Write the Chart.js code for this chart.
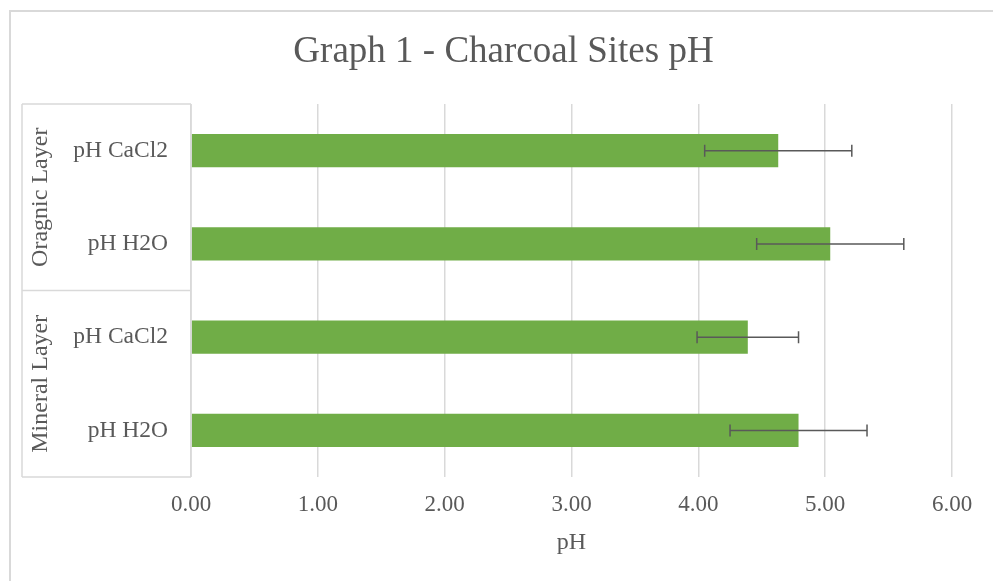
<!DOCTYPE html>
<html>
<head>
<meta charset="utf-8">
<script src="https://cdn.jsdelivr.net/npm/chart.js@4"></script>
<style>
  body { margin: 0; background: #fff; }
  #wrap { width: 993px; height: 581px; }
</style>
</head>
<body>
<div id="wrap"><canvas id="ph-chart"></canvas></div>
<script>
// data, top to bottom
var labels = ['pH CaCl2', 'pH H2O', 'pH CaCl2', 'pH H2O']
var groups = ['Oragnic Layer', 'Mineral Layer']
var groupSize = [2, 2]
var values = [4.63, 5.04, 4.39, 4.79]
var errors = [0.58, 0.58, 0.40, 0.54]
var xTicks = [0, 1, 2, 3, 4, 5, 6]

var grey = '#595959'
var serif = "'Liberation Serif', 'Times New Roman', serif"

// outer frame, chart title, grouped category boxes, axis title
var framePlugin = {
    id: 'frame',
    beforeDraw: function(chart) {
        var c = chart.ctx
        c.save()
        c.strokeStyle = '#d9d9d9'
        c.lineWidth = 2
        c.strokeRect(10, 11, chart.width + 20, chart.height + 20)
        c.fillStyle = grey
        c.font = '37px ' + serif
        c.textAlign = 'center'
        c.textBaseline = 'middle'
        c.fillText('Graph 1 - Charcoal Sites pH', 503.5, 52)
        c.restore()
    },
    afterDraw: function(chart) {
        var c = chart.ctx
        var area = chart.chartArea
        var y = chart.scales.y
        var left = 22
        c.save()
        c.strokeStyle = '#d9d9d9'
        c.lineWidth = 1.5
        var idx = 0
        var edges = [area.top]
        groupSize.forEach(function(n) {
            idx += n
            var bottom = idx < labels.length
                ? (y.getPixelForValue(idx - 1) + y.getPixelForValue(idx)) / 2
                : area.bottom
            edges.push(bottom)
        })
        c.beginPath()
        edges.forEach(function(e) {
            c.moveTo(left, e); c.lineTo(area.left, e)
        })
        c.moveTo(left, area.top); c.lineTo(left, area.bottom)
        c.moveTo(area.left, area.top); c.lineTo(area.left, area.bottom)
        c.stroke()

        c.fillStyle = grey
        c.font = '24px ' + serif
        c.textAlign = 'center'
        c.textBaseline = 'middle'
        groups.forEach(function(g, i) {
            var mid = (edges[i] + edges[i + 1]) / 2
            c.save()
            c.translate(41, mid)
            c.rotate(-Math.PI / 2)
            c.fillText(g, 0, 0)
            c.restore()
        })

        // x axis title
        c.fillText('pH', (area.left + area.right) / 2, 543)
        c.restore()
    }
}

var errorBarPlugin = {
    id: 'errorBars',
    afterDatasetsDraw: function(chart) {
        var c = chart.ctx
        var x = chart.scales.x
        var meta = chart.getDatasetMeta(0)
        c.save()
        c.strokeStyle = grey
        c.lineWidth = 1.5
        meta.data.forEach(function(bar, i) {
            var lo = x.getPixelForValue(values[i] - errors[i])
            var hi = x.getPixelForValue(values[i] + errors[i])
            c.beginPath()
            c.moveTo(lo, bar.y); c.lineTo(hi, bar.y)
            c.moveTo(lo, bar.y - 6); c.lineTo(lo, bar.y + 6)
            c.moveTo(hi, bar.y - 6); c.lineTo(hi, bar.y + 6)
            c.stroke()
        })
        c.restore()
    }
}

function drawChart() {
    const ctx = document.getElementById('ph-chart')
    new Chart(ctx, {
        type: 'bar',
        data: {
            labels: labels,
            datasets: [{
                label: 'pH',
                data: values,
                backgroundColor: '#70ad47',
                barPercentage: 0.354,
                categoryPercentage: 1
            }]
        },
        plugins: [framePlugin, errorBarPlugin],
        options: {
            indexAxis: 'y',
            responsive: true,
            maintainAspectRatio: false,
            animation: false,
            layout: {
                padding: { left: 22, right: 41, top: 104, bottom: 58 }
            },
            scales: {
                x: {
                    min: 0,
                    max: 6,
                    afterBuildTicks: function(scale) {
                        scale.ticks = xTicks.map(function(v) { return { value: v } })
                    },
                    grid: { color: '#d9d9d9', lineWidth: 1.5, drawTicks: false },
                    border: { display: false },
                    ticks: {
                        color: grey,
                        padding: 14,
                        font: { family: serif, size: 23 },
                        callback: function(v) { return Number(v).toFixed(2) }
                    },
                    afterFit: function(scale) { scale.height = 46 }
                },
                y: {
                    grid: { display: false, drawTicks: false },
                    border: { display: false },
                    ticks: {
                        color: grey,
                        padding: 23,
                        font: { family: serif, size: 23.5 }
                    },
                    afterFit: function(scale) { scale.width = 169 }
                }
            },
            plugins: {
                legend: { display: false },
                tooltip: { enabled: false },
                title: { display: false }
            }
        }
    })
}

drawChart()
</script>
</body>
</html>
